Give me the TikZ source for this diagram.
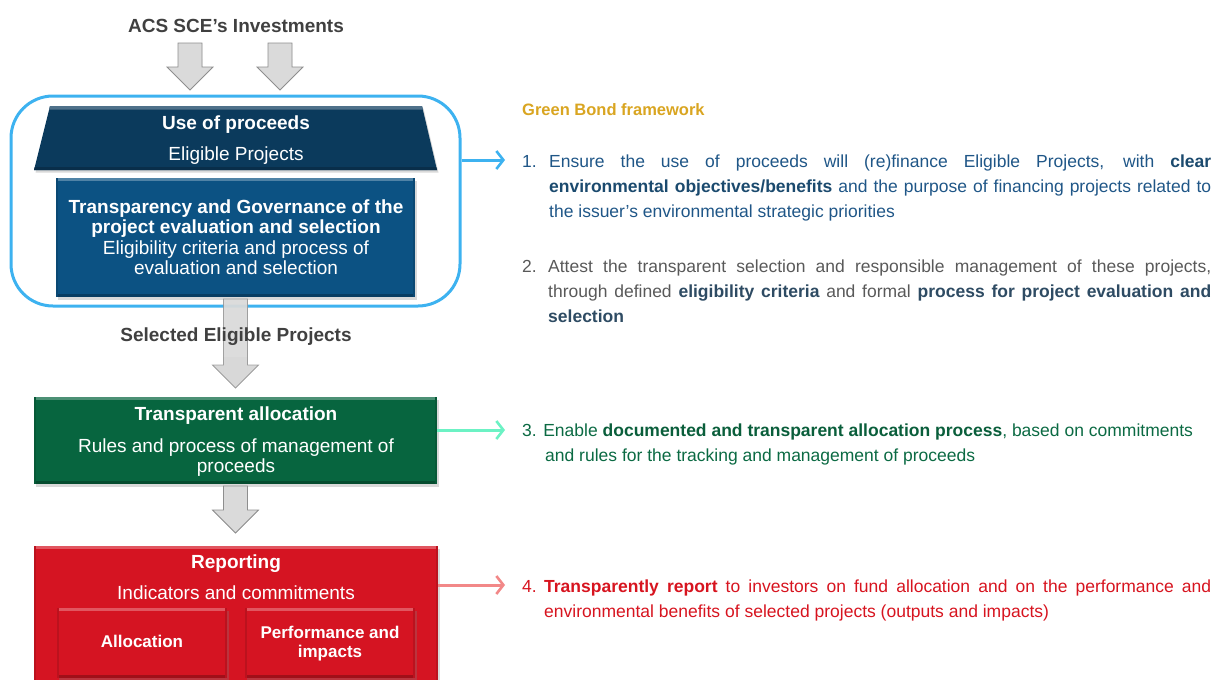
\documentclass[tikz,border=0pt]{standalone}
\usepackage{fontspec}
\setmainfont{Liberation Sans}
\usetikzlibrary{arrows.meta,shadows,calc}
\definecolor{frameblue}{HTML}{3DB2F0}
\definecolor{navy}{HTML}{0B3A5C}
\definecolor{govblue}{HTML}{0C5283}
\definecolor{allocgreen}{HTML}{07653F}
\definecolor{repred}{HTML}{D51422}
\definecolor{titlegray}{HTML}{404040}
\definecolor{gold}{HTML}{D9A521}
\definecolor{tone}{HTML}{1F5687}
\definecolor{toneb}{HTML}{1B4A6E}
\definecolor{ttwo}{HTML}{595959}
\definecolor{ttwob}{HTML}{2E4B63}
\definecolor{tthree}{HTML}{0B6A43}
\definecolor{tthreeb}{HTML}{0A5E3B}
\definecolor{tfour}{HTML}{D7141F}
\definecolor{mint}{HTML}{6CF2C4}
\definecolor{salmon}{HTML}{F28888}
\definecolor{arrfill}{HTML}{DADADA}
\definecolor{arrhead}{HTML}{CDCDCD}
\definecolor{arrline}{HTML}{8E8E8E}
\newcommand\blockarr[5]{%
  \fill[#5] (#1-12,#2) -- (#1+12,#2) -- (#1+12,#3) -- (#1+23,#3) -- (#1,#4) -- (#1-23,#3) -- (#1-12,#3) -- cycle;
  \fill[#5, arrhead] (#1-12,#3-8) -- (#1+12,#3-8) -- (#1+12,#3) -- (#1+23,#3) -- (#1,#4) -- (#1-23,#3) -- (#1-12,#3) -- cycle;
  \draw[#5, draw=arrline, line width=0.8pt] (#1-12,#2) -- (#1+12,#2) -- (#1+12,#3) -- (#1+23,#3) -- (#1,#4) -- (#1-23,#3) -- (#1-12,#3) -- cycle;}
\newcommand\bev[2]{%
  \fill[#2!72!white] (#1.north west) rectangle ($(#1.north east)+(0,3.5)$);
  \fill[#2!75!black] ($(#1.south west)+(0,-3)$) rectangle (#1.south east);
  \fill[#2!88!black] (#1.north west) rectangle ($(#1.south west)+(2,0)$);
  \fill[#2!88!black] ($(#1.north east)+(-2,0)$) rectangle (#1.south east);}
\begin{document}
\begin{tikzpicture}[x=1pt,y=-1pt,
  garrow/.style={fill=arrfill},
  garrowlong/.style={fill=arrfill, fill opacity=0.75, draw opacity=0.8},
  box/.style={inner sep=0pt, drop shadow={opacity=0.3, shadow xshift=1.5pt, shadow yshift=-2.5pt}},
  wt/.style={text=white, anchor=base, inner sep=0pt},
  wb/.style={wt, font=\bfseries\fontsize{19}{21}\selectfont},
  wr/.style={wt, font=\fontsize{19}{21}\selectfont},
  ws/.style={wt, font=\bfseries\fontsize{17}{19}\selectfont},
  gt/.style={text=titlegray, anchor=base, inner sep=0pt, font=\bfseries\fontsize{19}{21}\selectfont},
  rt/.style={anchor=base west, inner sep=0pt, font=\fontsize{17.5}{25}\selectfont},
  conn/.style={line width=3pt, -{Straight Barb[length=7pt,width=18pt,line width=2.6pt]}}
]
\useasboundingbox (0,0) rectangle (1213,680);

% title and top arrows
\node[gt] (title) at (236,32) {ACS SCE’s Investments};
\blockarr{190}{43}{67}{90}{garrow}
\blockarr{280}{43}{67}{90}{garrow}

% frame
\node[draw=frameblue, line width=3pt, rounded corners=42pt, minimum width=449pt, minimum height=210pt, inner sep=0pt] (frame) at (235.5,201) {};

% use of proceeds trapezoid
\fill[navy, drop shadow={opacity=0.3, shadow xshift=1.5pt, shadow yshift=-2.5pt}] (50,106) -- (422,106) -- (437,170) -- (34,170) -- cycle;
\fill[navy!72!white] (50,106) -- (422,106) -- (423,109.5) -- (49,109.5) -- cycle;
\fill[navy!80!black] (34.7,167) -- (436.3,167) -- (437,170) -- (34,170) -- cycle;
\node[inner sep=0pt, minimum width=403pt, minimum height=64pt] (use) at (235.5,138) {};
\node[wb] (usea) at (236,129) {Use of proceeds};
\node[wr] (useb) at (236,160) {Eligible Projects};

% governance box
\node[box, fill=govblue, minimum width=359pt, minimum height=119pt] (gov) at (235.5,237.5) {};
\bev{gov}{govblue}
\node[wb] (gova) at (236,213) {Transparency and Governance of the};
\node[wb] (govb) at (236,233) {project evaluation and selection};
\node[wr] (govc) at (236,254) {Eligibility criteria and process of};
\node[wr] (govd) at (236,274) {evaluation and selection};

% middle arrow and label
\blockarr{235.5}{299}{365}{388}{garrowlong}
\node[gt] (sel) at (236,341) {Selected Eligible Projects};

% allocation box
\node[box, fill=allocgreen, minimum width=403pt, minimum height=87pt] (alloc) at (235.5,440.5) {};
\bev{alloc}{allocgreen}
\node[wb] (alloca) at (236,420) {Transparent allocation};
\node[wr] (allocb) at (236,452) {Rules and process of management of};
\node[wr] (allocc) at (236,472) {proceeds};

\blockarr{235.5}{486}{510}{533}{garrow}

% reporting box
\node[box, fill=repred, minimum width=404pt, minimum height=154pt] (rep) at (236,623) {};
\bev{rep}{repred}
\node[wb] (repa) at (236,568) {Reporting};
\node[wr] (repb) at (236,599) {Indicators and commitments};
\node[box, fill=repred, minimum width=170pt, minimum height=70pt] (sa) at (142,643) {};
\bev{sa}{repred}
\node[box, fill=repred, minimum width=170pt, minimum height=70pt] (sp) at (330,643) {};
\bev{sp}{repred}
\node[ws] (saa) at (142,647) {Allocation};
\node[ws] (spa) at (330,638) {Performance and};
\node[ws] (spb) at (330,657) {impacts};

% connectors
\coordinate (a1) at (505,160);
\coordinate (a3) at (505,430);
\coordinate (a4) at (505,585);
\draw[conn, frameblue] (frame.east |- a1) -- (a1);
\draw[conn, mint] (alloc.east |- a3) -- (a3);
\draw[conn, salmon] (rep.east |- a4) -- (a4);

% right text
\node[anchor=base west, inner sep=0pt, text=gold, font=\bfseries\fontsize{16.5}{20}\selectfont] (gbf) at (522,115) {Green Bond framework};

\node[rt, text=tone] (n1) at (522,167) {1.};
\node[rt, text=tone] (i1a) at (549,167) {\makebox[662pt][s]{Ensure the use of proceeds will (re)finance Eligible Projects, with \textbf{\color{toneb}clear}}};
\node[rt, text=tone] (i1b) at (549,192) {\makebox[662pt][s]{\textbf{\color{toneb}environmental objectives/benefits} and the purpose of financing projects related to}};
\node[rt, text=tone] (i1c) at (549,217) {the issuer’s environmental strategic priorities};

\node[rt, text=ttwo] (n2) at (522,272) {2.};
\node[rt, text=ttwo] (i2a) at (548,272) {\makebox[663pt][s]{Attest the transparent selection and responsible management of these projects,}};
\node[rt, text=ttwo] (i2b) at (548,297) {\makebox[663pt][s]{through defined \textbf{\color{ttwob}eligibility criteria} and formal \textbf{\color{ttwob}process for project evaluation and}}};
\node[rt, text=ttwo] (i2c) at (548,322) {\textbf{\color{ttwob}selection}};

\node[rt, text=tthree] (i3a) at (522,436) {3. Enable \textbf{\color{tthreeb}documented and transparent allocation process}, based on commitments};
\node[rt, text=tthree] (i3b) at (545,461) {and rules for the tracking and management of proceeds};

\node[rt, text=tfour] (n4) at (522,592) {4.};
\node[rt, text=tfour] (i4a) at (544,592) {\makebox[667pt][s]{\textbf{Transparently report} to investors on fund allocation and on the performance and}};
\node[rt, text=tfour] (i4b) at (544,617) {environmental benefits of selected projects (outputs and impacts)};
\end{tikzpicture}
\end{document}
